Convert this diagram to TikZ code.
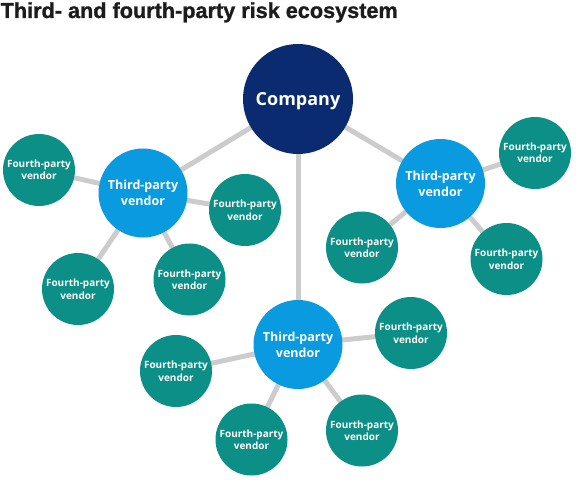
\documentclass[tikz,border=0pt]{standalone}
\usepackage{fontspec}
\setmainfont{Open Sans}
\newfontfamily\titlefont[FakeBold=1.2]{Liberation Sans Bold}
\usetikzlibrary{backgrounds}
\definecolor{navy}{HTML}{0A2B6F}
\definecolor{tblue}{HTML}{0A9ADF}
\definecolor{teal4}{HTML}{0C8F86}
\definecolor{conngray}{HTML}{CCCCCC}
\definecolor{titlecol}{HTML}{1C1C1C}
\tikzset{
  company/.style={circle, fill=navy, minimum size=110pt, inner sep=0pt, outer sep=0pt,
    text=white, text depth=0pt, font=\fontsize{18}{22}\selectfont\bfseries},
  third/.style={circle, fill=tblue, minimum size=89pt, inner sep=0pt, outer sep=0pt,
    text=white, align=center, font=\fontsize{12.5}{16}\selectfont\bfseries},
  fourth/.style={circle, fill=teal4, minimum size=72pt, inner sep=0pt, outer sep=0pt,
    text=white, align=center, font=\fontsize{10}{12.5}\selectfont\bfseries},
  conn/.style={draw=conngray, line width=5pt}
}
\begin{document}
\begin{tikzpicture}[x=1pt,y=-1pt]
\useasboundingbox (0,0) rectangle (576,484);
\node[anchor=base west, inner sep=0pt, text=titlecol] (title) at (0.5,18)
  {\resizebox{397pt}{!}{\titlefont Third- and fourth-party risk ecosystem}};
\node[company] (c) at (298,99) {Company};
\node[third] (tl) at (143,193) {Third-party\\vendor};
\node[third] (tr) at (440.5,183.5) {Third-party\\vendor};
\node[third] (tb) at (298,344.5) {Third-party\\vendor};
% fourth-party vendors
\node[fourth] (f1) at (39,170) {Fourth-party\\vendor};
\node[fourth] (f2) at (245,210) {Fourth-party\\vendor};
\node[fourth] (f3) at (78,289) {Fourth-party\\vendor};
\node[fourth] (f4) at (189.5,279.5) {Fourth-party\\vendor};
\node[fourth] (f5) at (535,153) {Fourth-party\\vendor};
\node[fourth] (f6) at (362,247.5) {Fourth-party\\vendor};
\node[fourth] (f7) at (506.5,259) {Fourth-party\\vendor};
\node[fourth] (f8) at (411,333) {Fourth-party\\vendor};
\node[fourth] (f9) at (176,371) {Fourth-party\\vendor};
\node[fourth] (f10) at (251.5,439.5) {Fourth-party\\vendor};
\node[fourth] (f11) at (362,430.5) {Fourth-party\\vendor};
\begin{scope}[on background layer]
\draw[conn] (c) -- (tl);
\draw[conn] (c) -- (tr);
\draw[conn] (c) -- (tb);
\draw[conn] (tl) -- (f1);
\draw[conn] (tl) -- (f2);
\draw[conn] (tl) -- (f3);
\draw[conn] (tl) -- (f4);
\draw[conn] (tr) -- (f5);
\draw[conn] (tr) -- (f6);
\draw[conn] (tr) -- (f7);
\draw[conn] (tb) -- (f8);
\draw[conn] (tb) -- (f9);
\draw[conn] (tb) -- (f10);
\draw[conn] (tb) -- (f11);
\end{scope}
\end{tikzpicture}
\end{document}
